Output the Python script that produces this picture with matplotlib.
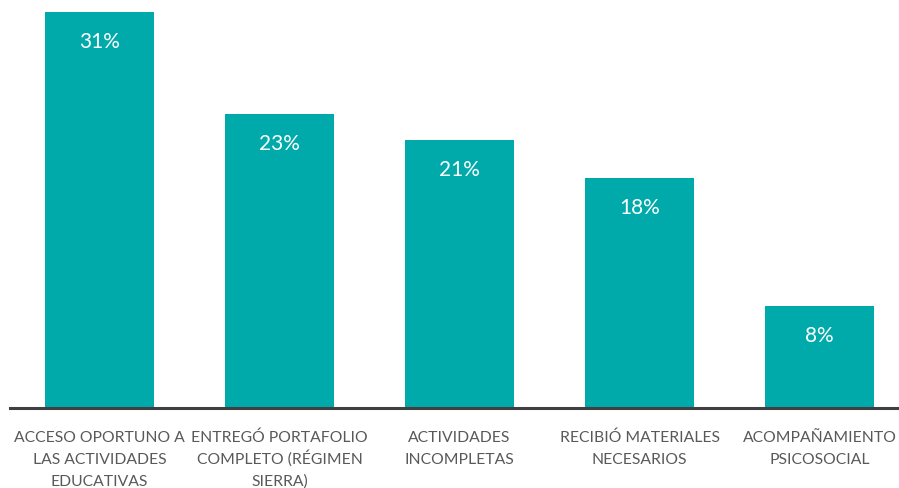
import matplotlib.pyplot as plt
from matplotlib.transforms import blended_transform_factory

categorias = [
    "ACCESO OPORTUNO A\nLAS ACTIVIDADES\nEDUCATIVAS",
    "ENTREGÓ PORTAFOLIO\nCOMPLETO (RÉGIMEN\nSIERRA)",
    "ACTIVIDADES\nINCOMPLETAS",
    "RECIBIÓ MATERIALES\nNECESARIOS",
    "ACOMPAÑAMIENTO\nPSICOSOCIAL",
]
porcentajes = [31, 23, 21, 18, 8]

color_barra = "#00AAAB"
color_texto = "#595959"

plt.rcParams["font.family"] = ["Lato", "DejaVu Sans"]

fig = plt.figure(figsize=(8.99, 4.89), dpi=100)
# area de ejes en fracciones de la figura
ax = fig.add_axes([10 / 899, (489 - 409) / 489, 889 / 899, 409 / 489])

x = list(range(len(categorias)))
barras = ax.bar(x, porcentajes, width=0.606, color=color_barra, zorder=2)

# etiquetas de valor dentro de cada barra
for b, v in zip(barras, porcentajes):
    ax.annotate(f"{v}%", (b.get_x() + b.get_width() / 2, b.get_height()),
                xytext=(0, -29), textcoords="offset pixels",
                ha="center", va="center", color="white", fontsize=15)

ax.set_xlim(-0.497, 4.44)
ax.set_ylim(0, 32.03)

for lado in ["top", "right", "left"]:
    ax.spines[lado].set_visible(False)
ax.spines["bottom"].set_color("#404040")
ax.spines["bottom"].set_linewidth(2.2)
ax.spines["bottom"].set_zorder(3)

ax.set_yticks([])
ax.set_xticks([])

# etiquetas de categoria, linea por linea para un interlineado parejo
trans = blended_transform_factory(ax.transData, fig.transFigure)
for xi, cat in zip(x, categorias):
    for i, linea in enumerate(cat.split("\n")):
        y_px = 442 + 22 * i  # linea base de cada renglon
        ax.text(xi, 1 - y_px / 489, linea, transform=trans, ha="center",
                va="baseline", fontsize=11.3, color=color_texto, clip_on=False)

fig.savefig("out.png", dpi=100)
